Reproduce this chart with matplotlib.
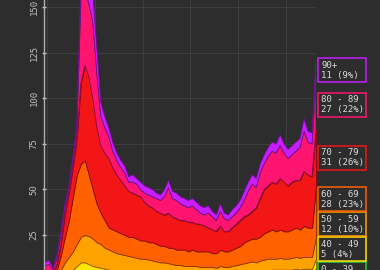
import matplotlib

matplotlib.use("Agg")
import matplotlib.pyplot as plt
import numpy as np
from matplotlib import colors as mcolors
from matplotlib.patches import Rectangle
from matplotlib.transforms import blended_transform_factory

# age bands, bottom to top of the stack
age_groups = ["0 - 39", "40 - 49", "50 - 59", "60 - 69", "70 - 79", "80 - 89", "90+"]

age_0_39 = [0.3, 0.4, 0.3, 0.8, 1.5, 2, 2.5, 3, 3.5, 4,
            4, 3.5, 3, 3, 2.5, 2.5, 2.5, 2.5, 2, 2,
            2, 2, 2, 1.5, 2, 2, 1.5, 2, 2, 1.5,
            2, 2, 1.5, 2, 1.5, 1.5, 2, 1.5, 1.5, 1.5,
            1.5, 1.5, 1.5, 1.5, 2, 1.5, 1.5, 2, 2, 2,
            2, 2, 2.5, 2, 2.5, 2.5, 2.5, 3, 2.5, 3,
            2.5, 2.5, 3, 3, 2.5, 3, 3, 3, 7]
age_40_49 = [0.2, 0.3, 0.2, 0.7, 1.5, 2, 2.5, 3, 4.5, 6,
             6, 5.5, 5, 4.5, 4.5, 4, 3.5, 3, 3.5, 3,
             3, 3, 3, 3, 3, 3, 3, 2.5, 2.5, 2.5,
             2.5, 2.5, 2.5, 2, 2.5, 2.5, 2, 2.5, 2, 2,
             2, 2, 2, 2, 2, 2, 2, 2, 2, 2.5,
             2.5, 3, 2.5, 3, 3, 3, 3, 3, 3.5, 3,
             3.5, 3.5, 3, 3.5, 3.5, 3.5, 3.5, 3.5, 5]
age_50_59 = [0.5, 0.8, 0.5, 1.5, 3, 6, 8, 10, 12, 14,
             15, 15.5, 15, 13.5, 13, 11.5, 11, 10.5, 9.5, 9.5,
             9, 8.5, 8, 8, 7, 7, 7, 6.5, 6, 6,
             5.5, 5, 5, 4.5, 4.5, 4, 4, 4, 4.5, 4,
             4, 4, 4, 3.5, 4, 4, 4, 4, 4.5, 4.5,
             5, 5, 5.5, 5, 5.5, 6, 6.5, 6, 6, 6.5,
             6, 6, 6.5, 6.5, 6.5, 6.5, 6.5, 6.5, 12]
age_60_69 = [1, 1.5, 1, 3, 8, 14, 20, 30, 38, 40,
             41, 33.5, 27, 21, 17, 15, 12, 12, 12, 11.5,
             11, 10.5, 11, 10.5, 10, 10, 9.5, 10, 9.5, 9,
             9, 8.5, 9, 8.5, 8.5, 9, 8, 9, 8, 8.5,
             8.5, 8.5, 7.5, 8, 9, 8.5, 8.5, 9, 9.5, 10,
             11.5, 12, 12.5, 13, 13, 14.5, 15, 16, 15, 15.5,
             15, 15, 15.5, 16, 15.5, 17, 16, 16, 28]
age_70_79 = [2, 2, 2, 3, 6, 12, 15, 16, 20, 44,
             52, 54, 50, 42, 37, 37, 38, 34, 31, 29,
             27, 25, 24, 24, 24, 21, 20, 19, 18, 18,
             17, 19, 17, 17, 16, 16, 16, 15, 15, 15,
             14, 13, 13, 12, 13, 11, 11, 12, 13, 14,
             14, 14, 15, 17, 21, 24, 25, 26, 26, 28,
             27, 25, 26, 26, 27, 30, 29, 28, 31]
age_80_89 = [4, 4, 2, 3, 5, 4, 2, 4, 5, 46,
             42, 40, 42, 30, 16, 14, 12, 9, 8, 7,
             7, 5, 6, 6, 4, 5, 6, 6, 7, 7,
             10, 14, 10, 10, 9, 8, 8, 9, 8, 6,
             6, 8, 7, 6, 8, 7, 6, 6, 6, 7,
             9, 13, 15, 11, 14, 14, 16, 17, 17, 18,
             16, 15, 15, 16, 18, 22, 18, 18, 27]
age_90_plus = [2, 2, 1, 2, 2, 2, 2, 2, 3, 8,
               10, 14, 16, 14, 8, 6, 5, 5, 4, 4,
               4, 3, 4, 3, 4, 4, 4, 4, 3, 3,
               4, 4, 4, 4, 4, 4, 4, 4, 4, 4,
               4, 4, 3, 3, 4, 3, 3, 4, 4, 4,
               5, 5, 5, 5, 5, 5, 5, 5, 5, 6,
               5, 5, 5, 5, 5, 7, 6, 6, 11]

layer_colors = ["#2ecc40", "#ffe600", "#ffa200", "#ff6000", "#f21616", "#ff1470", "#c81eff"]
BG = "#2d2d2d"

layers = [age_0_39, age_40_49, age_50_59, age_60_69, age_70_79, age_80_89, age_90_plus]
days = np.arange(len(age_0_39))

fig = plt.figure(figsize=(3.8, 2.7), dpi=100, facecolor=BG)
ax = fig.add_axes([44 / 380, 0, 272 / 380, 1], facecolor=BG)

polys = ax.stackplot(days, layers, colors=layer_colors, linewidth=0.6)
for poly, c in zip(polys, layer_colors):
    poly.set_edgecolor(np.array(mcolors.to_rgb(c)) * 0.55)

ax.set_xlim(-0.25, len(days) - 1)
ax.set_ylim(5.8, 154)
ax.set_xticks(np.arange(0.5, len(days), 12))
ax.set_yticks([25, 50, 75, 100, 125, 150])
ax.set_axisbelow(True)
ax.grid(True, color="#3e3e3e", linewidth=0.8)

for side in ["top", "right", "bottom"]:
    ax.spines[side].set_visible(False)
ax.spines["left"].set_color("#b0b0b0")
ax.spines["left"].set_linewidth(1)

ax.tick_params(axis="x", length=0, labelbottom=False)
ax.tick_params(axis="y", direction="inout", length=3, width=1, color="#cccccc",
               labelcolor="#bdbdbd", labelsize=6.5, pad=2.5)
for lab in ax.get_yticklabels():
    lab.set_rotation(90)
    lab.set_va("center")
    lab.set_family("DejaVu Sans Mono")

# labels for the last day, pushed apart so the boxes don't overlap
last = [s[-1] for s in layers]
total = sum(last)
mids = np.cumsum(last) - np.array(last) / 2
GAP = 13.7
BOX_H = 13.2
label_y = []
prev = -np.inf
for m in mids:
    y = max(m, prev + GAP)
    label_y.append(y)
    prev = y

trans = blended_transform_factory(ax.transAxes, ax.transData)
for name, v, y, c in zip(age_groups, last, label_y, layer_colors):
    ax.add_patch(Rectangle((1.0074, y - BOX_H / 2), 48 / 272, BOX_H, transform=trans,
                           facecolor=BG, edgecolor=c, linewidth=1.1, clip_on=False))
    ax.text(1.020, y, f"{name}\n{v:g} ({round(100 * v / total)}%)", transform=trans,
            ha="left", va="center", fontsize=6.5, family="DejaVu Sans Mono",
            color="#dcdcdc", linespacing=1.15, clip_on=False)

fig.savefig("out.png", dpi=100, facecolor=BG)
